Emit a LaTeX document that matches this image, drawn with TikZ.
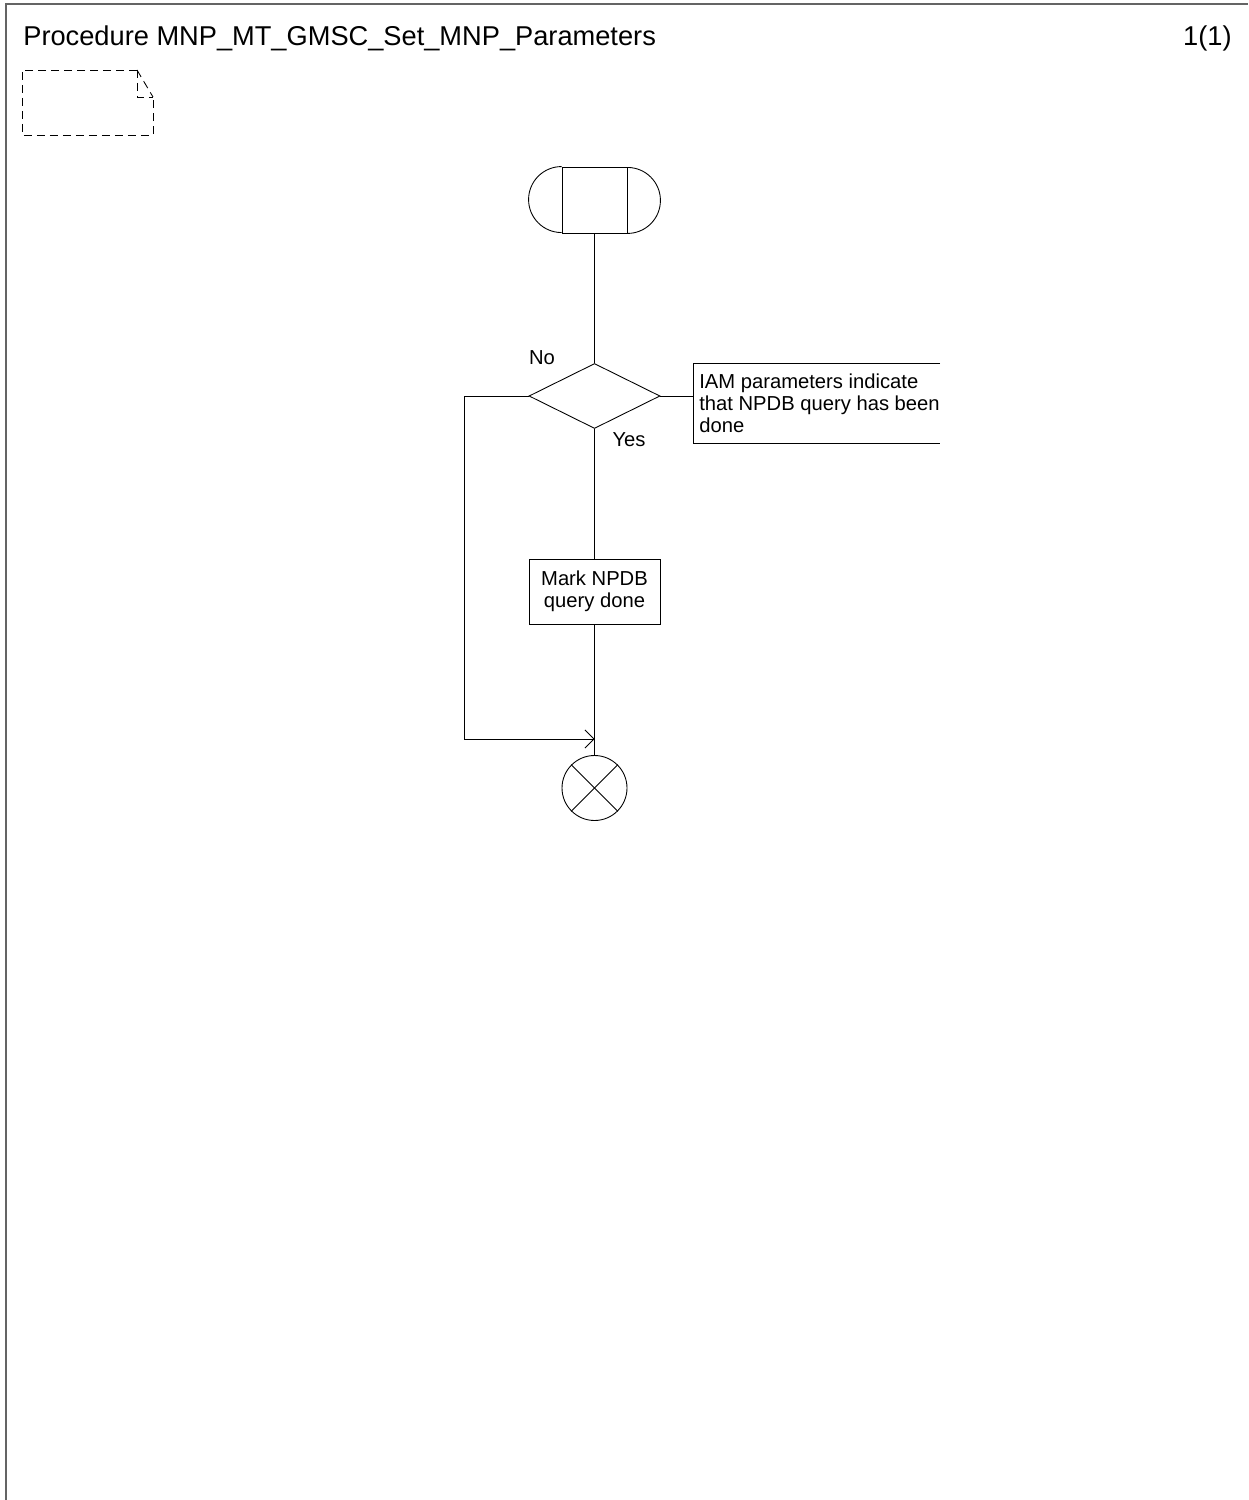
\documentclass[tikz,border=0pt]{standalone}
\usepackage{fontspec}
\setmainfont{Liberation Sans}
\usetikzlibrary{shapes.geometric,arrows.meta}
\definecolor{framegray}{RGB}{100,100,100}
\tikzset{
  ln/.style={line width=0.5pt,draw=black},
  txt/.style={font=\fontsize{11.5pt}{12.6pt}\selectfont},
  taskbox/.style={ln,rectangle,minimum width=2.62cm,minimum height=1.30cm,inner sep=0pt,align=center,txt},
  decision/.style={ln,diamond,minimum width=2.62cm,minimum height=1.30cm,inner sep=0pt},
  stopsym/.style={ln,circle,minimum size=1.30cm,inner sep=0pt},
  startbox/.style={ln,rectangle,minimum width=1.30cm,minimum height=1.32cm,inner sep=0pt},
  lbl/.style={txt,inner sep=0pt},
  notedash/.style={line width=0.5pt,dash pattern=on 0.16cm off 0.1cm},
  barb/.style={-{Straight Barb[length=0.18cm,width=0.36cm,line width=0.5pt]}}
}
\begin{document}
\begin{tikzpicture}[x=0.02cm,y=-0.02cm]
\useasboundingbox (0,0) rectangle (1248,1500);
% frame
\draw[framegray,line width=1.1pt] (6,1500) -- (6,4) -- (1248,4);
% title
\node[anchor=base west,inner sep=0pt,font=\fontsize{15.5pt}{18pt}\selectfont] (title) at (23,46) {Procedure MNP\_MT\_GMSC\_Set\_MNP\_Parameters};
\node[anchor=base east,inner sep=0pt,font=\fontsize{15.5pt}{18pt}\selectfont] (page) at (1232,46) {1(1)};
% dashed note symbol
\draw[notedash] (137,70) -- (22,70) -- (22,135) -- (153,135) -- (153,97);
\draw[notedash] (137,70) -- (153,97);
\draw[notedash] (137,70) -- (137,97) -- (153,97);
% start
\node[startbox] (start) at (594.5,200) {};
\draw[ln] (start.north west) arc[start angle=90,end angle=270,radius=0.66cm];
\draw[ln] (start.south east) arc[start angle=-90,end angle=90,radius=0.66cm];
% decision
\node[decision] (dec) at (594.5,396) {};
\node[lbl] (no) at (542,358) {No};
\node[lbl] (yes) at (629,440) {Yes};
% comment
\coordinate (cm) at (693,396);
\draw[ln] (dec.east) -- (cm);
\draw[ln] (940,363) -- (693,363) -- (693,443) -- (940,443);
\node[lbl,anchor=west,align=left,font=\fontsize{11.5pt}{12.5pt}\selectfont] (ctext) at (699,403) {IAM parameters indicate\\that NPDB query has been\\done};
% task
\node[taskbox] (mark) at (594.5,591.5) {Mark NPDB\\query done};
% stop
\node[stopsym] (stop) at (594.5,788) {};
\draw[ln] (stop.north west) -- (stop.south east);
\draw[ln] (stop.north east) -- (stop.south west);
% connectors
\draw[ln] (start.south) -- (dec.north);
\draw[ln] (dec.south) -- (mark.north);
\draw[ln] (mark.south) -- (stop.north);
\coordinate (join) at (594.5,739);
\draw[ln,barb] (dec.west) -- (464,396) -- (464,739) -- (join);
\end{tikzpicture}
\end{document}
